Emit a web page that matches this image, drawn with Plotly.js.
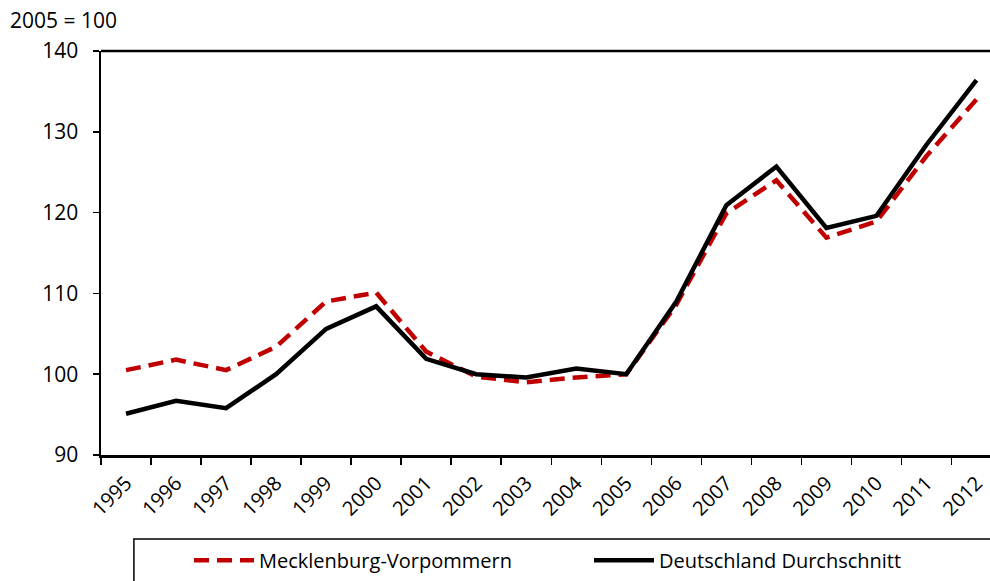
<!DOCTYPE html>
<html>
<head>
<meta charset="utf-8">
<script src="https://cdn.plot.ly/plotly-3.0.1.min.js"></script>
<style>html,body{margin:0;padding:0;background:#fff;}#chart{width:990px;height:581px;}</style>
</head>
<body>
<div id="chart"></div>
<script>
const years = ["1995","1996","1997","1998","1999","2000","2001","2002","2003","2004","2005","2006","2007","2008","2009","2010","2011","2012"];
const mecklenburgVorpommern = [100.5,101.8,100.5,103.4,109.0,110.1,102.8,99.7,99.0,99.6,100.0,108.6,119.9,124.0,116.9,118.9,127.0,134.0];
const deutschland = [95.1,96.7,95.8,100.0,105.6,108.4,101.9,100.0,99.6,100.7,100.0,109.0,120.9,125.7,118.1,119.6,128.4,136.4];
const seriesNames = ["Mecklenburg-Vorpommern","Deutschland Durchschnitt"];
const yTicks = [90,100,110,120,130,140];

const FONT = "Open Sans, sans-serif";
const traces = [
  {x: years, y: mecklenburgVorpommern, name: seriesNames[0], type: "scatter", mode: "lines",
   line: {color: "#C00000", width: 4.5, dash: "15px,8px"}},
  {x: years, y: deutschland, name: seriesNames[1], type: "scatter", mode: "lines",
   line: {color: "#000000", width: 4.5}}
];
const layout = {
  width: 990, height: 581,
  margin: {l: 101, r: 0, t: 51, b: 126, pad: 0},
  paper_bgcolor: "#fff", plot_bgcolor: "#fff",
  font: {family: FONT, size: 21, color: "#000"},
  showlegend: true,
  legend: {orientation: "h", x: 0.099, xanchor: "left", y: -0.212, yanchor: "top",
    bgcolor: "rgba(0,0,0,0)", borderwidth: 0, font: {family: FONT, size: 20, color: "#000"},
    entrywidth: 325, itemwidth: 60, traceorder: "normal"},
  xaxis: {type: "category", range: [-0.5, 17.27], showgrid: false, zeroline: false,
    showline: true, linecolor: "#000", linewidth: 2.5, ticks: "outside", tickson: "boundaries",
    ticklen: 7, tickwidth: 1.5, tickcolor: "#000", tickangle: -45, ticklabelstandoff: 6,
    tickfont: {family: FONT, size: 20, color: "#000"}},
  yaxis: {range: [90, 140], tickvals: yTicks, showgrid: false, zeroline: false,
    showline: true, linecolor: "#000", linewidth: 2.5, ticks: "outside", ticklen: 6,
    tickwidth: 1.5, tickcolor: "#000", tickfont: {family: FONT, size: 21, color: "#000"},
    ticklabelstandoff: 10},
  shapes: [
    {type: "line", xref: "paper", yref: "paper", x0: 0, x1: 1, y0: 1, y1: 1,
     line: {color: "#000", width: 2.5}},
    {type: "rect", xref: "paper", yref: "paper", x0: 0.037, x1: 1.05, y0: -0.208, y1: -0.45,
     line: {color: "#000", width: 1.5}, fillcolor: "rgba(0,0,0,0)"}
  ],
  annotations: [
    {text: "2005 = 100", xref: "paper", yref: "paper", x: -0.105, y: 1.077,
     xanchor: "left", yanchor: "middle", showarrow: false,
     font: {family: FONT, size: 21, color: "#000"}}
  ]
};
Plotly.newPlot("chart", traces, layout, {displayModeBar: false, staticPlot: true});
</script>
</body>
</html>
